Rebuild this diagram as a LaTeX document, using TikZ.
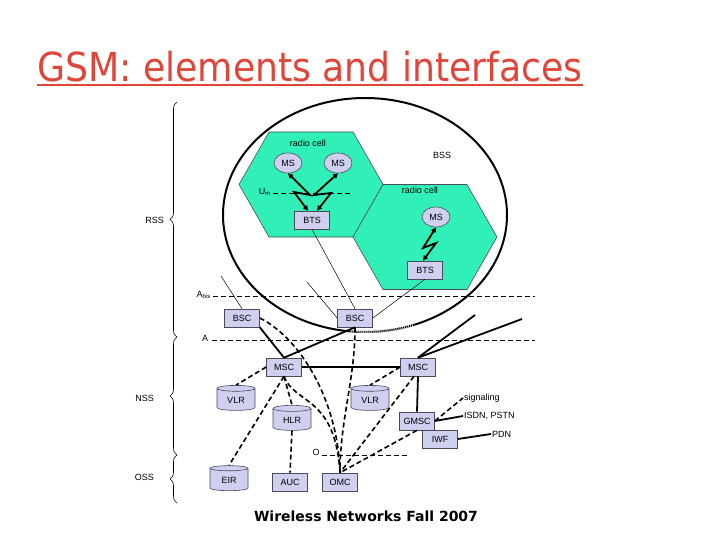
\documentclass[tikz,border=0pt]{standalone}
\usepackage{fontspec}
\setmainfont{Liberation Sans}
\newfontfamily\titlefont{DejaVu Sans}
\usetikzlibrary{positioning,arrows.meta,shapes.geometric,decorations.pathreplacing,calc}
\definecolor{cellgreen}{HTML}{30F0B8}
\definecolor{boxlav}{HTML}{CFCFF0}
\definecolor{titlered}{HTML}{E0453A}
\definecolor{edgegray}{HTML}{4A4A5A}

% hexagonal radio cell, centre given in px
\newcommand{\hexcell}[2]{%
  \filldraw[fill=cellgreen, draw=edgegray, line width=0.6pt]
    (#1-72,#2) -- (#1-42,#2-52.5) -- (#1+42,#2-52.5) -- (#1+72,#2)
    -- (#1+42,#2+52.5) -- (#1-42,#2+52.5) -- cycle;}

\begin{document}
\begin{tikzpicture}[
  x=1pt, y=-1pt,
  font=\fontsize{9}{10}\selectfont,
  >={Triangle[length=5pt,width=5pt]},
  box/.style={draw=edgegray, line width=0.6pt, fill=boxlav, minimum width=35pt,
              minimum height=18pt, inner sep=1pt},
  db/.style={cylinder, shape border rotate=90, aspect=0.3, draw=edgegray, line width=0.6pt,
             fill=boxlav, minimum width=38pt, minimum height=25pt, inner sep=1pt},
  ms/.style={ellipse, draw=edgegray, line width=0.6pt, fill=boxlav, minimum width=28pt,
             minimum height=20pt, inner sep=0pt},
  lbl/.style={inner sep=1pt},
  link/.style={line width=1.8pt},
  wire/.style={line width=0.5pt},
  sig/.style={line width=1.6pt, dash pattern=on 5pt off 3pt},
  iface/.style={line width=0.6pt, dash pattern=on 5pt off 3pt},
  bolt/.style={<->, line width=1.8pt},
  grp/.style={decorate, decoration={brace, amplitude=7pt}, line width=0.6pt},
]
\useasboundingbox (0,0) rectangle (720,540);

% ---- title ----
\node[anchor=base west, inner sep=0pt, text=titlered, font=\titlefont\fontsize{40}{44}\selectfont]
      (title) at (37,82) {\scalebox{0.905}[1]{GSM: elements and interfaces}};
\draw[titlered, line width=2pt] ([yshift=-3pt]title.base west) -- ([yshift=-3pt]title.base east);

% ---- radio cells and BSS ----
\hexcell{311}{184.5}
\hexcell{425}{237}
\def\bsspath{(223,215) .. controls (223,150.4) and (286.6,98) .. (365,98)
  .. controls (443.4,98) and (507,150.4) .. (507,215)
  .. controls (507,279.6) and (443.4,332) .. (365,332)
  .. controls (286.6,332) and (223,279.6) .. (223,215) -- cycle}
\draw[line width=2pt] \bsspath;
\begin{scope}
  \clip (350,300) rectangle (414,345);
  \draw[white, line width=2.6pt] \bsspath;
  \draw[line width=2pt, dash pattern=on 1.2pt off 0.8pt] \bsspath;
\end{scope}

\node[lbl] (cell1) at (308,143) {radio cell};
\node[lbl] (cell2) at (420,190) {radio cell};
\node[lbl] (bss) at (442,155) {BSS};
\node[ms] (ms1) at (288,163) {MS};
\node[ms] (ms2) at (338,163) {MS};
\node[ms] (ms3) at (436,217) {MS};
\node[box] (bts1) at (312,220) {BTS};
\node[box] (bts2) at (425,270) {BTS};

% ---- interfaces ----
\node[lbl, anchor=east] (um) at (272,192) {U\textsubscript{m}};
\coordinate (umstart) at (273,193);
\coordinate (umend) at (352,193);
\node[lbl, anchor=east] (abis) at (212,295) {A\textsubscript{bis}};
\coordinate (abisstart) at (213,296);
\coordinate (abisend) at (535,296);
\node[lbl] (ainf) at (205,338) {A};
\coordinate (astart) at (212,340);
\coordinate (aend) at (535,340);
\node[lbl] (oinf) at (316,452) {O};
\coordinate (ostart) at (322,455);
\coordinate (oend) at (408,455);
\draw[iface] (umstart) -- (umend);
\draw[iface] (abisstart) -- (abisend);
\draw[iface] (astart) -- (aend);
\draw[iface] (ostart) -- (oend);

% ---- network elements ----
\node[box] (bsc1) at (242,318) {BSC};
\node[box] (bsc2) at (355,318) {BSC};
\node[box] (msc1) at (284,367) {MSC};
\node[box] (msc2) at (418,367) {MSC};
\node[db]  (vlr1) at (236,400) {VLR};
\node[db]  (vlr2) at (370,400) {VLR};
\node[db]  (hlr)  at (292,420) {HLR};
\node[box] (gmsc) at (417,421) {GMSC};
\node[box] (iwf)  at (440,439) {IWF};
\node[db]  (eir)  at (229,480) {EIR};
\node[box] (auc)  at (290,482) {AUC};
\node[box] (omc)  at (340,482) {OMC};

\node[lbl, anchor=west] (sigl) at (463,398) {signaling};
\node[lbl, anchor=west] (isdn) at (463,416) {ISDN, PSTN};
\node[lbl, anchor=west] (pdn)  at (491,434) {PDN};

% ---- subsystem braces ----
\draw[grp] (177,337) -- (177,102);
\draw[grp] (177,455) -- (177,337);
\draw[grp] (177,503) -- (177,455);
\node[lbl, anchor=east] (rss) at (165,220) {RSS};
\node[lbl, anchor=east] (nss) at (155,398) {NSS};
\node[lbl, anchor=east] (oss) at (155,477) {OSS};

% ---- radio links ----
\draw[bolt] (ms1.south) -- (310,195) -- (294,192) -- ([xshift=-4pt]bts1.north);
\draw[bolt] (ms2.south) -- (314,195) -- (331,193) -- ([xshift=5pt]bts1.north);
\draw[bolt] (ms3.south) -- (423,248) -- (436,243) -- ([xshift=-2pt]bts2.north);

% ---- fixed lines ----
\coordinate (btsx1) at (221,276);
\coordinate (btsx2) at (307,282);
\coordinate (trunk1) at (475,315);
\coordinate (trunk2) at (522,319);
\draw[wire] (btsx1) -- (bsc1.north);
\draw[wire] (btsx2) -- (bsc2.west);
\draw[wire] (bts1.south) -- (bsc2.north);
\draw[wire] (bts2.south) -- (bsc2.east);
\draw[link] (bsc1.south east) -- (msc1.north);
\draw[link] (bsc2.south) -- (msc1.north);
\draw[link] (msc1.east) -- (msc2.west);
\draw[link] (msc2.north) -- (trunk1);
\draw[link] (msc2.north) -- (trunk2);
\draw[link] (msc2.south) -- (gmsc.north);
\draw[link] (gmsc.east) -- (isdn.west);
\draw[link] (iwf.east) -- (pdn.west);

% ---- signaling ----
\draw[sig] (gmsc.east) -- (sigl.west);
\draw[sig] (msc1.west) -- (vlr1.north);
\draw[sig] (msc1.south) -- (hlr.north);
\draw[sig] (msc1.south) -- (eir.north);
\draw[sig] (hlr.south) -- (auc.north);
\draw[sig] (msc2.west) -- (vlr2.north);
\draw[sig] ([xshift=-4pt]msc2.south) -- (omc.north);
\draw[sig] (gmsc.south) -- (omc.north);
\draw[sig] (bsc1.east) .. controls (300,338) and (338,400) .. (omc.north);
\draw[sig] (bsc2.south) .. controls (355,380) and (340,420) .. (omc.north);
\draw[sig] (msc1.south) .. controls (295,405) and (335,395) .. (omc.north);

% ---- footer ----
\node[font=\titlefont\bfseries\fontsize{14}{16}\selectfont] (footer) at (366,516)
      {Wireless Networks Fall 2007};
\end{tikzpicture}
\end{document}
